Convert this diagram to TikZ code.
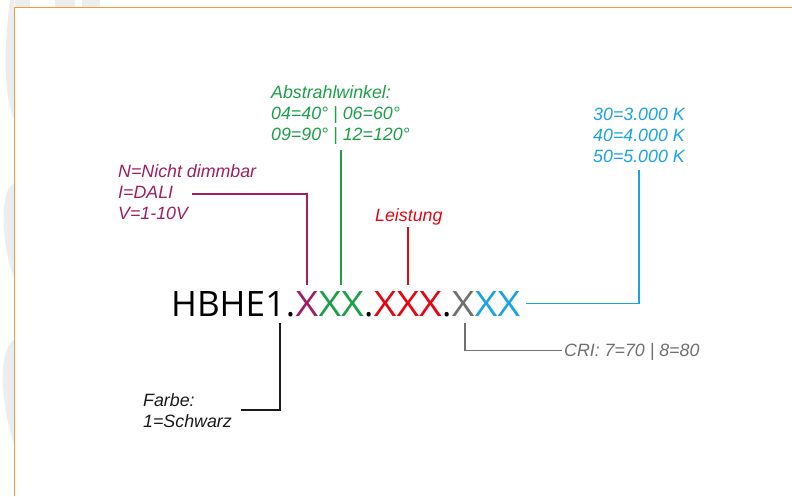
\documentclass[tikz,border=0pt]{standalone}
\usepackage{fontspec}
\setmainfont{Liberation Sans}
\newfontfamily\codefont{Open Sans}
\usetikzlibrary{calc}
\definecolor{cmag}{HTML}{9E1F63}
\definecolor{cgreen}{HTML}{1F9E4A}
\definecolor{cred}{HTML}{E30613}
\definecolor{cgray}{HTML}{707071}
\definecolor{cblue}{HTML}{1CA3E2}
\definecolor{ctext}{HTML}{1A1A1A}
\definecolor{cframe}{HTML}{F39A3C}
\definecolor{wm}{HTML}{EDEDED}
\newcommand\wideX[1]{\scalebox{1.12}[1]{#1}}
\tikzset{
  code/.style={inner sep=0pt, anchor=base west, font=\codefont\fontsize{35}{35}\selectfont},
  lab/.style={inner sep=0pt, align=left, font=\fontsize{17.8}{21}\selectfont\itshape},
  ln/.style={line width=1.9pt},
}
\begin{document}
\begin{tikzpicture}[x=1pt,y=-1pt]
\useasboundingbox (0,0) rectangle (792,496);
\fill[white] (0,0) rectangle (792,496);
% faint watermark in the margins
\fill[wm] (10,0) .. controls (5,40) and (2,90) .. (14,120) -- (14,0) -- cycle;
\fill[wm] (14,183) .. controls (0,190) and (0,240) .. (14,278) -- cycle;
\fill[wm] (14,340) .. controls (-2,350) and (0,400) .. (14,445) -- cycle;
\fill[wm] (15,0) rectangle (30,7);
\fill[wm] (55,0) rectangle (75,7);
\fill[wm] (82,0) rectangle (100,7);
\fill[white] (14.5,7.5) rectangle (792,496);
\draw[cframe, line width=1.8pt] (792,7.5) -- (14.5,7.5) -- (14.5,496);

% product code
\node[code] (h) at (171,316) {HBHE};
\node[code] (one) at (h.base east) {1};
\node[code] (d1) at (one.base east) {.};
\node[code, text=cmag] (xm) at (d1.base east) {\wideX{X}};
\node[code, text=cgreen] (xg) at (xm.base east) {\wideX{XX}};
\node[code] (d2) at (xg.base east) {.};
\node[code, text=cred] (xr) at (d2.base east) {\wideX{XXX}};
\node[code] (d3) at (xr.base east) {.};
\node[code, text=cgray] (xgr) at (d3.base east) {\wideX{X}};
\node[code, text=cblue] (xb) at (xgr.base east) {\wideX{XX}};

% labels
\node[lab, text=cgreen, anchor=north west] (lg) at (271,85) {Abstrahlwinkel:\\04=40° | 06=60°\\09=90° | 12=120°};
\node[lab, text=cmag, anchor=north west] (lm) at (118,164) {N=Nicht dimmbar\\I=DALI\\V=1-10V};
\node[lab, text=cred, anchor=base west] (lr) at (375,221.5) {Leistung};
\node[lab, text=cblue, anchor=north west] (lb) at (593,108) {30=3.000 K\\40=4.000 K\\50=5.000 K};
\node[lab, text=cgray, anchor=base west] (lgr) at (564,356) {CRI: 7=70 | 8=80};
\node[lab, text=ctext, anchor=north west] (lk) at (143,393) {Farbe:\\1=Schwarz};

% connector ends
\coordinate (m1) at (192,194);
\coordinate (gtop) at (339,150);
\coordinate (rtop) at (409,227);
\coordinate (b1) at (639,170);
\coordinate (g1) at (561.5,350.5);
\coordinate (k1) at (241,410);
\coordinate (xmt) at ($(xm.north)+(0,-6)$);
\coordinate (xgt) at ($(xg.north)+(0,-6)$);
\coordinate (xrt) at ($(xr.north)+(0,-6)$);

% connectors
\draw[ln, cmag] (xmt) |- (m1);
\draw[ln, cgreen] (xgt) -- (xgt |- gtop);
\draw[ln, cred] (xrt) -- (xrt |- rtop);
\draw[ln, cblue] ($(xb.east)+(6,0)$) -| (b1);
\draw[ln, cgray] ($(xgr.south)+(1.5,7)$) |- (g1);
\draw[ln, ctext, line width=2pt] ($(one.south)+(5,7)$) |- (k1);
\end{tikzpicture}
\end{document}
